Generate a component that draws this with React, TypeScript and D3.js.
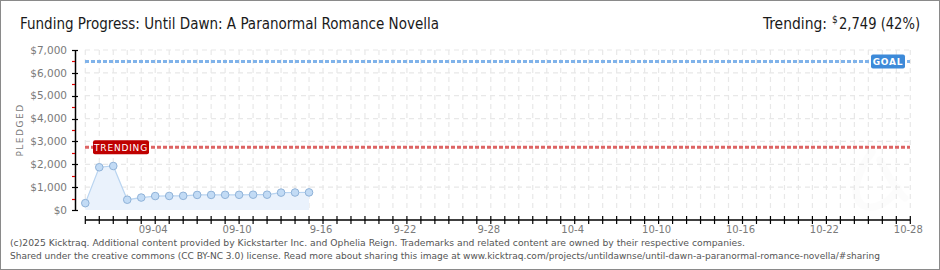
import React from "react";
import * as d3 from "d3";

const W = 940;
const H = 270;

const dates: string[] = [
  "2025-08-30", "2025-08-31", "2025-09-01", "2025-09-02", "2025-09-03", "2025-09-04",
  "2025-09-05", "2025-09-06", "2025-09-07", "2025-09-08", "2025-09-09", "2025-09-10",
  "2025-09-11", "2025-09-12", "2025-09-13", "2025-09-14", "2025-09-15",
];
const pledged: number[] = [
  300, 1870, 1925, 450, 545, 610, 615, 620, 660, 660, 665, 665, 670, 670, 760, 765, 770,
];
const tickLabelDates: string[] = [
  "2025-09-04", "2025-09-10", "2025-09-16", "2025-09-22", "2025-09-28",
  "2025-10-04", "2025-10-10", "2025-10-16", "2025-10-22", "2025-10-28",
];
const tickLabels: string[] = [
  "09-04", "09-10", "9-16", "9-22", "9-28", "10-4", "10-10", "10-16", "10-22", "10-28",
];
const yTicks: number[] = [0, 1000, 2000, 3000, 4000, 5000, 6000, 7000];
const yMinorTicks: number[] = [500, 1500, 2500, 3500, 4500, 5500, 6500];
const goal = 6500;
const trending = 2749;
const startDate = "2025-08-30";
const endDate = "2025-10-28";

const title = "Funding Progress: Until Dawn: A Paranormal Romance Novella";
const footer1 =
  "(c)2025 Kicktraq. Additional content provided by Kickstarter Inc. and Ophelia Reign. Trademarks and related content are owned by their respective companies.";
const footer2 =
  "Shared under the creative commons (CC BY-NC 3.0) license. Read more about sharing this image at www.kicktraq.com/projects/untildawnse/until-dawn-a-paranormal-romance-novella/#sharing";

const parse = (s: string) => new Date(s + "T00:00:00Z");

export default function App() {
  const x = d3.scaleUtc().domain([parse(startDate), parse(endDate)]).range([85.3, 910.3]);
  const y = d3.scaleLinear().domain([0, 7000]).range([210, 50]);
  const allDays = d3.utcDay.range(parse(startDate), d3.utcDay.offset(parse(endDate), 1));
  const pts = dates.map((d, i) => ({ d: parse(d), v: pledged[i] }));
  const line = d3.line<{ d: Date; v: number }>().x((p) => x(p.d)).y((p) => y(p.v));
  const area = d3
    .area<{ d: Date; v: number }>()
    .x((p) => x(p.d))
    .y0(y(0))
    .y1((p) => y(p.v));
  const fmt = d3.format(",");
  const lbl = "DejaVu Sans, Verdana, sans-serif";

  return (
    <svg
      width={W}
      height={H}
      style={{ position: "absolute", left: 0, top: 0, background: "#fff" }}
    >
      <rect x={0.5} y={0.5} width={W - 1} height={H - 1} fill="#fff" stroke="#8a8a8a" />
      <text
        x={20}
        y={29}
        fontFamily="DejaVu Sans Condensed, Liberation Sans Narrow, sans-serif"
        fontSize={15.5}
        fill="#1a1a1a"
        textLength={419}
        lengthAdjust="spacingAndGlyphs"
      >
        {title}
      </text>
      <text x={763} y={29} fontFamily="DejaVu Sans Condensed, sans-serif" fontSize={15.5} fill="#1a1a1a" textLength={64} lengthAdjust="spacingAndGlyphs">
        Trending:
      </text>
      <text x={832} y={23} fontFamily="DejaVu Sans Condensed, sans-serif" fontSize={10} fill="#1a1a1a">
        $
      </text>
      <text x={839} y={29} fontFamily="DejaVu Sans Condensed, sans-serif" fontSize={15.5} fill="#1a1a1a" textLength={81} lengthAdjust="spacingAndGlyphs">
        {fmt(trending) + " (42%)"}
      </text>

      {/* watermark */}
      <g opacity={0.025} fill="none" stroke="#999" strokeWidth={7} strokeLinecap="round">
        <path d="M872 152 C 858 170, 850 195, 862 205 C 875 212, 892 200, 898 188" />
        <path d="M880 160 C 888 176, 896 190, 905 198" />
      </g>

      {/* grid */}
      <g stroke="#e8e8e8" strokeWidth={1.2} strokeDasharray="5,4">
        {allDays.map((d, i) => (
          <line key={"vg" + i} x1={x(d)} x2={x(d)} y1={50} y2={210} />
        ))}
        {yTicks.slice(1).map((t) => (
          <line key={"hg" + t} x1={85} x2={910} y1={y(t)} y2={y(t)} />
        ))}
      </g>

      {/* area & line */}
      <path d={area(pts) || ""} fill="#eaf2fc" />
      <path d={line(pts) || ""} fill="none" stroke="#b9d4f0" strokeWidth={1.2} />

      {/* goal line */}
      <line x1={85} x2={910} y1={y(goal)} y2={y(goal)} stroke="#80b3ea" strokeWidth={3} strokeDasharray="4,2" />
      <rect x={871} y={y(goal) - 7} width={34} height={14} rx={2} fill="#3d8ad9" />
      <text x={888} y={y(goal) + 3.5} textAnchor="middle" fontFamily={lbl} fontSize={9} fontWeight="bold" fill="#fff" letterSpacing={0.8}>
        GOAL
      </text>

      {/* trending line */}
      <line x1={85} x2={910} y1={y(trending)} y2={y(trending)} stroke="#dd6464" strokeWidth={3} strokeDasharray="4,2" />
      <rect x={93} y={y(trending) - 7} width={56} height={14} rx={2} fill="#bf0000" />
      <text x={121} y={y(trending) + 3.5} textAnchor="middle" fontFamily={lbl} fontSize={9} fill="#fff" letterSpacing={0.8}>
        TRENDING
      </text>

      {/* points */}
      {pts.map((p, i) => (
        <circle key={"pt" + i} cx={x(p.d)} cy={y(p.v)} r={3.8} fill="#c2dbf5" stroke="#8fb2d8" strokeWidth={1} />
      ))}

      {/* y axis */}
      <line x1={75.5} x2={75.5} y1={50} y2={210} stroke="#000" strokeWidth={1.5} />
      {yTicks.map((t) => (
        <g key={"yt" + t}>
          <line x1={72} x2={78} y1={Math.round(y(t)) + 0.5} y2={Math.round(y(t)) + 0.5} stroke="#000" strokeWidth={1.2} />
          <text x={67} y={y(t) + 3.7} textAnchor="end" fontFamily={lbl} fontSize={10.5} fill="#7a7a7a">
            {"$" + fmt(t)}
          </text>
        </g>
      ))}
      {yMinorTicks.map((t) => (
        <line key={"ym" + t} x1={72} x2={75} y1={Math.round(y(t)) + 0.5} y2={Math.round(y(t)) + 0.5} stroke="#e00000" strokeWidth={1.2} />
      ))}
      <text
        transform="translate(23,130) rotate(-90)"
        textAnchor="middle"
        fontFamily={lbl}
        fontSize={9}
        fill="#7a7a7a"
        letterSpacing={1.5}
      >
        PLEDGED
      </text>

      {/* x axis */}
      <line x1={85.3} x2={910.3} y1={220} y2={220} stroke="#000" strokeWidth={1.5} />
      {allDays.map((d, i) => (
        <line key={"xt" + i} x1={x(d)} x2={x(d)} y1={216} y2={224} stroke="#000" strokeWidth={1.2} />
      ))}
      {tickLabelDates.map((d, i) => (
        <text key={"xl" + i} x={x(parse(d)) - 2} y={233} textAnchor="middle" fontFamily={lbl} fontSize={10} fill="#7a7a7a">
          {tickLabels[i]}
        </text>
      ))}

      {/* footer */}
      <text x={10} y={246} fontFamily="DejaVu Sans Condensed, sans-serif" fontSize={9.5} fill="#555" textLength={735} lengthAdjust="spacingAndGlyphs">
        {footer1}
      </text>
      <text x={10} y={259} fontFamily="DejaVu Sans Condensed, sans-serif" fontSize={9.5} fill="#555" textLength={870} lengthAdjust="spacingAndGlyphs">
        {footer2}
      </text>
    </svg>
  );
}
